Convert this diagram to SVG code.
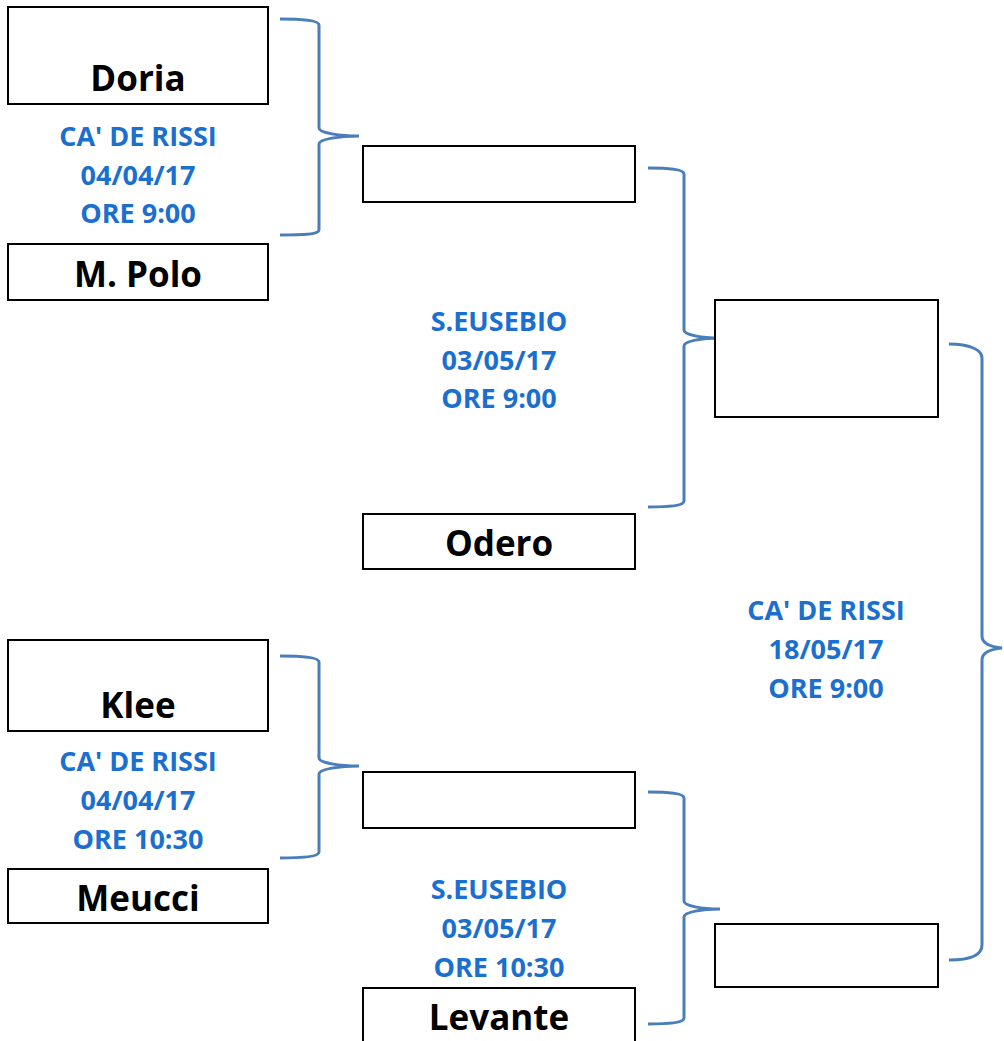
<svg xmlns="http://www.w3.org/2000/svg" width="1004" height="1041" viewBox="0 0 1004 1041">
<style>
.box{fill:#fff;stroke:#000;stroke-width:2}
.name{font-family:"Open Sans","Liberation Sans",sans-serif;font-weight:700;font-size:35px;fill:#000;text-anchor:middle}
.info{font-family:"Open Sans","Liberation Sans",sans-serif;font-weight:700;font-size:27px;fill:#1a6fcf;text-anchor:middle}
.brace{fill:none;stroke:#4a7ebb;stroke-width:3}
</style>
<rect width="1004" height="1041" fill="#fff"/>
<g id="connectors">
<path class="brace" d="M280,19 C300,19 319,20 319,25 L319,128 C319,133 340,136 359,136 C340,136 319,139 319,144 L319,230 C319,235 300,235 280,235"/>
<path class="brace" d="M648,168 C668,168 684,169 684,174 L684,330 C684,335 702,338 720,338 C702,338 684,341 684,346 L684,501 C684,506 668,507 648,507"/>
<path class="brace" d="M949,344 C970,344 982,350 982,358 L982,636 C982,644 992,647 1002,648 C992,649 982,652 982,660 L982,945 C982,955 970,960 949,960"/>
<path class="brace" d="M280,656 C300,656 319,657 319,662 L319,758 C319,763 340,766 359,766 C340,766 319,769 319,774 L319,852 C319,857 300,858 280,858"/>
<path class="brace" d="M648,792 C668,792 684,793 684,798 L684,901 C684,906 702,909 720,909 C702,909 684,912 684,917 L684,1018 C684,1023 668,1024 648,1024"/>
</g>
<g id="doria"><rect class="box" x="8" y="7" width="260" height="97"/><text class="name" x="138" y="91">Doria</text></g>
<g id="info1"><text class="info" x="138" y="146">CA' DE RISSI</text><text class="info" x="138" y="185">04/04/17</text><text class="info" x="138" y="223">ORE 9:00</text></g>
<g id="polo"><rect class="box" x="8" y="244" width="260" height="56"/><text class="name" x="138" y="287">M. Polo</text></g>
<g id="semi1"><rect class="box" x="363" y="146" width="272" height="56"/></g>
<g id="info2"><text class="info" x="499" y="331">S.EUSEBIO</text><text class="info" x="499" y="370">03/05/17</text><text class="info" x="499" y="408">ORE 9:00</text></g>
<g id="final1"><rect class="box" x="715" y="300" width="223" height="117"/></g>
<g id="odero"><rect class="box" x="363" y="514" width="272" height="55"/><text class="name" x="499" y="556">Odero</text></g>
<g id="info5"><text class="info" x="826" y="620">CA' DE RISSI</text><text class="info" x="826" y="659">18/05/17</text><text class="info" x="826" y="698">ORE 9:00</text></g>
<g id="klee"><rect class="box" x="8" y="640" width="260" height="91"/><text class="name" x="138" y="718">Klee</text></g>
<g id="info3"><text class="info" x="138" y="771">CA' DE RISSI</text><text class="info" x="138" y="810">04/04/17</text><text class="info" x="138" y="849">ORE 10:30</text></g>
<g id="meucci"><rect class="box" x="8" y="869" width="260" height="54"/><text class="name" x="138" y="911">Meucci</text></g>
<g id="semi2"><rect class="box" x="363" y="772" width="272" height="56"/></g>
<g id="info4"><text class="info" x="499" y="899">S.EUSEBIO</text><text class="info" x="499" y="938">03/05/17</text><text class="info" x="499" y="977">ORE 10:30</text></g>
<g id="levante"><rect class="box" x="363" y="988" width="272" height="60"/><text class="name" x="499" y="1030">Levante</text></g>
<g id="final2"><rect class="box" x="715" y="924" width="223" height="63"/></g>
</svg>
